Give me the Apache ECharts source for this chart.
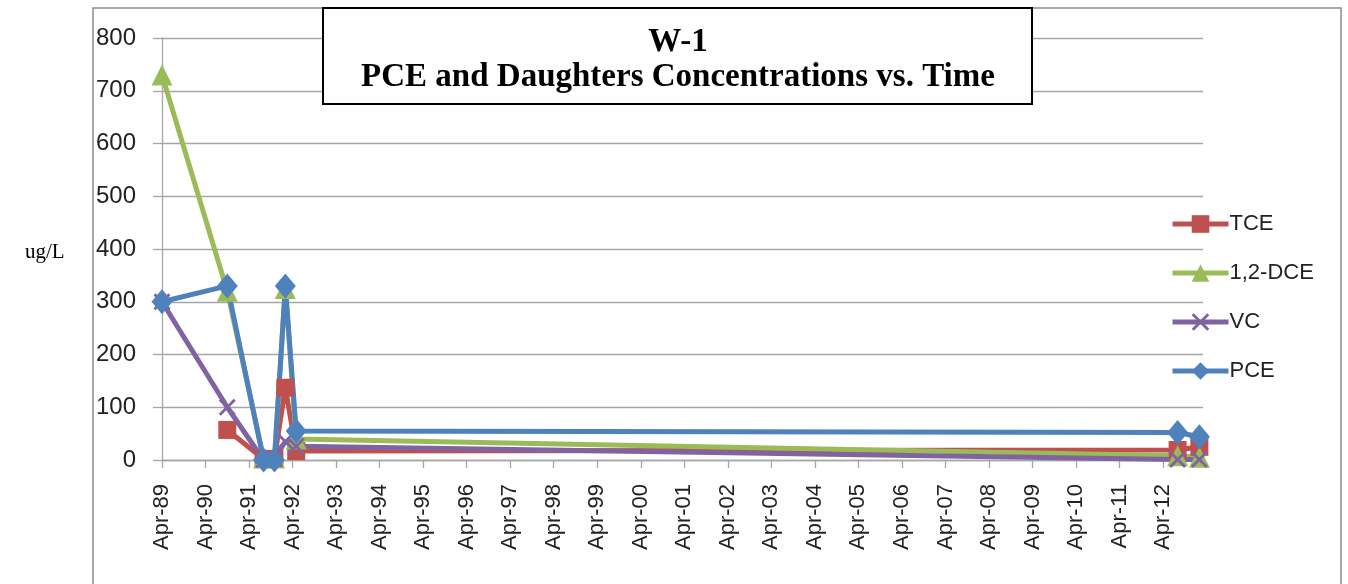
<!DOCTYPE html>
<html>
<head>
<meta charset="utf-8">
<script src="https://cdn.jsdelivr.net/npm/echarts@6/dist/echarts.min.js"></script>
<style>html,body{margin:0;padding:0;background:#fff;}#c{width:1348px;height:584px;}</style>
</head>
<body>
<div id="c"></div>
<script>
// ---- data ----
const tickLabels = ['Apr-89','Apr-90','Apr-91','Apr-92','Apr-93','Apr-94','Apr-95','Apr-96','Apr-97','Apr-98','Apr-99','Apr-00','Apr-01','Apr-02','Apr-03','Apr-04','Apr-05','Apr-06','Apr-07','Apr-08','Apr-09','Apr-10','Apr-11','Apr-12'];
const sampleMonths = [0, 18, 28, 31, 34, 37, 280, 286]; // months since Apr-89
const tce = [null, 57, 2, 2, 137, 17, 19, 25];
const dce = [730, 320, 4, 4, 325, 40, 8, 5];
const vc  = [300, 100, 0, 2, 35, 26, 1, 1];
const pce = [300, 330, 0, 0, 330, 55, 52, 44];
const yTicks = [0, 100, 200, 300, 400, 500, 600, 700, 800];

const tickMonths = tickLabels.map((_, i) => i * 12);
const pairs = arr => sampleMonths.map((m, i) => [m, arr[i] == null ? '-' : arr[i]]);
const xSym = 'path://M0,1.2 L1.2,0 L5,3.8 L8.8,0 L10,1.2 L6.2,5 L10,8.8 L8.8,10 L5,6.2 L1.2,10 L0,8.8 L3.8,5 Z';

const chart = echarts.init(document.getElementById('c'));
const mk = (name, data, color, symbol, size) => ({
  name, type: 'line', data: pairs(data), connectNulls: false,
  symbol, symbolSize: size, showSymbol: true,
  lineStyle: { color, width: 5 },
  itemStyle: { color },
  emphasis: { disabled: true },
  animation: false
});

chart.setOption({
  animation: false,
  grid: { left: 162, right: 145, top: 38, bottom: 124 },
  legend: {
    orient: 'vertical', left: 1170, top: 213, padding: 0,
    itemWidth: 56, itemHeight: 22, itemGap: 27,
    lineStyle: { width: 5 },
    textStyle: { fontFamily: 'Liberation Sans', fontSize: 22, color: '#222', padding: [0,0,0,-4] },
    data: ['TCE', '1,2-DCE', 'VC', 'PCE']
  },
  xAxis: {
    type: 'value', min: 0, max: 287,
    axisLine: { show: true, lineStyle: { color: '#a6a6a6', width: 1.3 } },
    axisTick: { show: true, length: 8, lineStyle: { color: '#a6a6a6', width: 1.3 }, customValues: tickMonths },
    axisLabel: {
      rotate: 90, margin: 24, fontFamily: 'Liberation Sans', fontSize: 22, color: '#222',
      customValues: tickMonths,
      formatter: v => tickLabels[Math.round(v / 12)] || ''
    },
    splitLine: { show: false }
  },
  yAxis: {
    type: 'value', min: 0, max: 800, interval: 100,
    axisLine: { show: true, lineStyle: { color: '#a6a6a6', width: 1.3 } },
    axisTick: { show: true, length: 9, lineStyle: { color: '#a6a6a6', width: 1.3 } },
    axisLabel: { margin: 26, fontFamily: 'Liberation Sans', fontSize: 24, color: '#222',
      formatter: v => yTicks.includes(v) ? String(v) : '' },
    splitLine: { show: true, lineStyle: { color: '#a6a6a6', width: 1.3 } }
  },
  series: [
    mk('TCE', tce, '#C0504D', 'rect', 18),
    mk('1,2-DCE', dce, '#9BBB59', 'triangle', 21),
    mk('VC', vc, '#8064A2', xSym, 17),
    mk('PCE', pce, '#4F81BD', 'diamond', [21, 25])
  ],
  graphic: [
    { type: 'rect', shape: { x: 93, y: 8, width: 1248, height: 600 }, style: { fill: 'none', stroke: '#8c8c8c', lineWidth: 1.5 }, silent: true, z: 0 },
    { type: 'rect', shape: { x: 323, y: 8, width: 709, height: 96 }, style: { fill: '#fff', stroke: '#000', lineWidth: 2 }, z: 100 },
    { type: 'text', x: 678, y: 42, z: 101, style: { text: 'W-1', fontFamily: 'Liberation Serif', fontWeight: 'bold', fontSize: 33, fill: '#000', align: 'center', verticalAlign: 'middle' } },
    { type: 'text', x: 678, y: 77, z: 101, style: { text: 'PCE and Daughters Concentrations vs. Time', fontFamily: 'Liberation Serif', fontWeight: 'bold', fontSize: 33, fill: '#000', align: 'center', verticalAlign: 'middle' } },
    { type: 'text', x: 25, y: 252, z: 101, style: { text: 'ug/L', fontFamily: 'Liberation Serif', fontSize: 21, fill: '#000', align: 'left', verticalAlign: 'middle' } }
  ]
});
</script>
</body>
</html>
